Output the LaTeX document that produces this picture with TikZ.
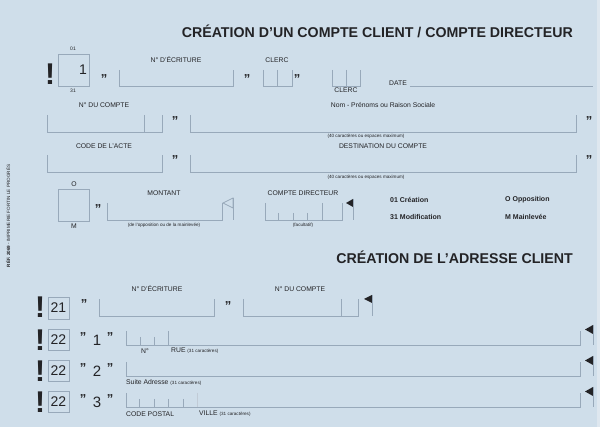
\documentclass[tikz,border=0pt]{standalone}
\usepackage{fontspec}
\setmainfont{Liberation Sans}
\definecolor{paper}{RGB}{207,222,234}
\definecolor{edge}{RGB}{222,231,239}
\definecolor{rule}{RGB}{152,169,186}
\definecolor{ink}{RGB}{35,35,38}
\newcommand{\smalltxt}[1]{{\fontsize{4.6}{5}\selectfont #1}}

\begin{document}
\begin{tikzpicture}[x=1pt,y=-1pt,
    lbl/.style={font=\fontsize{6.8}{7}\selectfont,text=ink,inner sep=0pt},
    note/.style={font=\fontsize{4.6}{5}\selectfont,text=ink,inner sep=0pt},
    title/.style={font=\bfseries\fontsize{14.2}{15}\selectfont,text=ink,inner sep=0pt,anchor=east},
    legend/.style={font=\bfseries\fontsize{7}{8}\selectfont,text=ink,inner sep=0pt,anchor=west},
    bang/.style={font=\bfseries\fontsize{30}{30}\selectfont,text=ink,inner sep=0pt},
    digit/.style={font=\fontsize{14}{14}\selectfont,text=ink,inner sep=0pt},
    quote/.style={font=\bfseries\fontsize{13}{13}\selectfont,text=ink,inner sep=0pt,anchor=north},
    field/.style={draw=rule,line width=0.8pt},
    flag/.style={fill=ink}]

    % Paper
    \fill[paper] (0,0) rectangle (600,427);
    \fill[edge] (597,0) rectangle (600,427);
    \useasboundingbox (0,0) rectangle (600,427);

    % Titles
    \node[title] (titre1) at (573,31) {CRÉATION D’UN COMPTE CLIENT / COMPTE DIRECTEUR};
    \node[title] (titre2) at (573,257) {CRÉATION DE L’ADRESSE CLIENT};
    \node[note,rotate=90] (ref) at (8,216) {\textbf{RÉF. 2069} - IMPRIMERIE FORTIN LE PROGRÈS};

    % First line: code, ecriture, clerc, date
    \node[bang] (bang1) at (50,74) {!};
    \draw[field] (58,54) rectangle (89,86);
    \node[digit,anchor=east] (code1) at (87,70) {1};
    \node[lbl,font=\fontsize{5}{5}\selectfont] (c01) at (73,49) {01};
    \node[lbl,font=\fontsize{5}{5}\selectfont] (c31) at (73,91) {31};
    \node[quote] (q1) at (104,74.5) {”};
    \draw[field] (119,70) |- (233,86) -- (233,70);
    \node[lbl] (ecriture1) at (176,60) {N° D’ÉCRITURE};
    \node[quote] (q2) at (247,74.5) {”};
    \draw[field] (263,70) |- (292,86) -- (292,70);
    \draw[field] (277,70) -- (277,86);
    \node[lbl] (clerc1) at (277,60) {CLERC};
    \node[quote] (q3) at (297,74.5) {”};
    \draw[field] (332,70) |- (360,86) -- (360,70);
    \draw[field] (346,70) -- (346,86);
    \node[lbl] (clerc2) at (346,90) {CLERC};
    \node[lbl,anchor=east] (date) at (407,83) {DATE};
    \draw[field] (410,86) -- (593,86);

    % Second line: compte, nom
    \node[lbl] (compte1) at (104,105) {N° DU COMPTE};
    \draw[field] (47,115) |- (162,132) -- (162,115);
    \draw[field] (144,115) -- (144,132);
    \node[quote] (q4) at (175,116.5) {”};
    \draw[field] (190,115) |- (576,132) -- (576,115);
    \node[lbl] (nom) at (383,105) {Nom - Prénoms ou Raison Sociale};
    \node[quote] (q5) at (589,116.5) {”};
    \node[note] (max1) at (366,136) {(40 caractères ou espaces maximum)};

    % Third line: acte, destination
    \node[lbl] (acte) at (104,146) {CODE DE L’ACTE};
    \draw[field] (47,155) |- (162,172) -- (162,155);
    \node[quote] (q6) at (175,155.5) {”};
    \draw[field] (190,155) |- (576,172) -- (576,155);
    \node[lbl] (destination) at (383,146) {DESTINATION DU COMPTE};
    \node[quote] (q7) at (589,155.5) {”};
    \node[note] (max2) at (366,177) {(40 caractères ou espaces maximum)};

    % Fourth line: montant, compte directeur
    \node[lbl] (lo) at (74,184) {O};
    \draw[field] (58,189) rectangle (89,221);
    \node[lbl] (lm) at (74,226) {M};
    \node[quote] (q8) at (98,204.5) {”};
    \draw[field] (107,203) |- (222,220) -- (222,203);
    \node[lbl] (montant) at (164,193) {MONTANT};
    \node[note] (mainlevee) at (164,225) {(de l’opposition ou de la mainlevée)};
    \draw[field] (233,198) -- (223,203) -- (233,208) -- cycle;
    \draw[field] (233,198) -- (233,220);
    \draw[field] (265,203) |- (342,220) -- (342,203);
    \draw[field] (322,203) -- (322,220);
    \foreach \x in {278,293,307}
        \draw[field] (\x,213) -- (\x,220);
    \node[lbl] (directeur) at (303,193) {COMPTE DIRECTEUR};
    \node[note] (facultatif) at (303,225) {(facultatif)};
    \fill[flag] (353,199) -- (346,203) -- (353,207) -- cycle;
    \draw[field] (353,199) -- (353,220);

    % Legend
    \node[legend] (creation) at (390,200) {01 Création};
    \node[legend] (modification) at (390,217) {31 Modification};
    \node[legend] (opposition) at (505,200) {O Opposition};
    \node[legend] (mainlev) at (505,217) {M Mainlevée};

    % Adresse: line 21
    \node[bang] (bang21) at (40,307) {!};
    \draw[field] (48,297) rectangle (69,319);
    \node[digit] (code21) at (58.5,308) {21};
    \node[quote] (q9) at (84,299.5) {”};
    \draw[field] (99,299) |- (214,316) -- (214,299);
    \node[lbl] (ecriture2) at (157,289) {N° D’ÉCRITURE};
    \node[quote] (q10) at (228,301.5) {”};
    \draw[field] (243,299) |- (358,316) -- (358,299);
    \draw[field] (341,299) -- (341,316);
    \node[lbl] (compte2) at (300,289) {N° DU COMPTE};
    \fill[flag] (372,295) -- (364,299) -- (372,303) -- cycle;
    \draw[field] (372,295) -- (372,316);

    % Adresse: lines 22
    \foreach \k/\y in {1/329,2/360,3/391} {
        \node[bang] (bang22-\k) at (40,\y+11) {!};
        \draw[field] (48,\y) rectangle (69,\y+21);
        \node[digit] (code22-\k) at (58.5,\y+10.5) {22};
        \node[quote] (qa-\k) at (83,\y+3.5) {”};
        \node[digit,font=\fontsize{15}{15}\selectfont] (num-\k) at (97,\y+11) {\k};
        \node[quote] (qb-\k) at (110,\y+3.5) {”};
        \draw[field] (126,\y+2) |- (580,\y+16) -- (580,\y+2);
        \fill[flag] (593,\y-4) -- (585,\y+0.5) -- (593,\y+5) -- cycle;
        \draw[field] (593,\y-4) -- (593,\y+16);
    }
    \foreach \x in {140,154}
        \draw[field] (\x,337) -- (\x,345);
    \draw[field] (168,331) -- (168,345);
    \node[lbl] (numero) at (145,351) {N°};
    \node[lbl,anchor=west] (rue) at (171,351) {RUE \smalltxt{(31 caractères)}};
    \node[lbl,anchor=west] (suite) at (126,383) {Suite Adresse \smalltxt{(31 caractères)}};
    \foreach \x in {139,154,168,183}
        \draw[field] (\x,399) -- (\x,407);
    \draw[field,rule!60] (197,393) -- (197,407);
    \node[lbl,anchor=west] (postal) at (126,414) {CODE POSTAL};
    \node[lbl,anchor=west] (ville) at (199,414) {VILLE \smalltxt{(31 caractères)}};

\end{tikzpicture}
\end{document}
